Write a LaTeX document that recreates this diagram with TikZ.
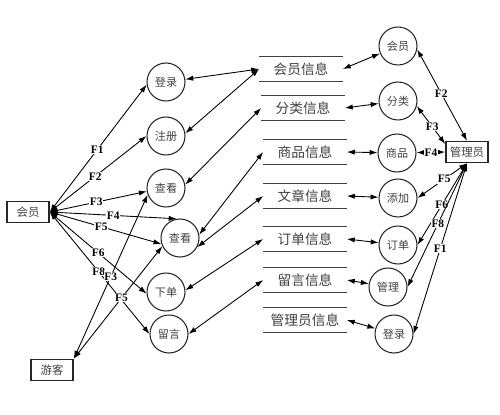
\documentclass[tikz,border=0pt]{standalone}
\usepackage{fontspec}
\setmainfont{Liberation Serif}
\newfontfamily\cjk{Noto Sans CJK SC}
\usepackage{tikz}
\usetikzlibrary{arrows.meta}
\tikzset{
  proc/.style={circle, draw=black!85, line width=0.6pt, minimum size=0.76cm,
               inner sep=0pt, text=black!75, font=\cjk\fontsize{6.3}{7}\selectfont},
  ent/.style={rectangle, draw=black!85, line width=0.9pt, minimum width=0.84cm,
              minimum height=0.42cm, inner sep=1pt, text=black!75,
              font=\cjk\fontsize{6.5}{7}\selectfont},
  store/.style={rectangle, minimum width=1.66cm, minimum height=0.48cm,
                inner sep=0pt, text=black!75, font=\cjk\fontsize{7.8}{8}\selectfont},
  storeline/.style={line width=0.8pt, draw=black!75},
  flow/.style={{Latex[length=4.5pt,width=3pt]}-{Latex[length=4.5pt,width=3pt]},
               line width=0.5pt, draw=black},
  lbl/.style={font=\bfseries\fontsize{6.5}{7}\selectfont, fill=white, inner sep=0.4pt},
}
\begin{document}
\begin{tikzpicture}[x=0.02cm, y=-0.02cm]
  \useasboundingbox (0,0) rectangle (500,415);
  % external entities
  \node[ent] (huiyuan) at (28,212) {会员};
  \node[ent] (youke)   at (52,370) {游客};
  \node[ent] (guanli)  at (467,152) {管理员};
  % member side processes
  \node[proc] (denglu)  at (166,82)  {登录};
  \node[proc] (zhuce)   at (166,136) {注册};
  \node[proc] (chakan)  at (166,188) {查看};
  \node[proc] (chakanb) at (180,238) {查看};
  \node[proc] (xiadan)  at (166,292) {下单};
  \node[proc] (liuyan)  at (169,334) {留言};
  % data stores
  \node[store] (s1) at (301,69)  {会员信息};
  \node[store] (s2) at (303,108) {分类信息};
  \node[store] (s3) at (305,152) {商品信息};
  \node[store] (s4) at (305,196) {文章信息};
  \node[store] (s5) at (305,239) {订单信息};
  \node[store] (s6) at (305,280) {留言信息};
  \node[store] (s7) at (305,320) {管理员信息};
  \foreach \s in {s1,s2,s3,s4,s5,s6,s7} {
    \draw[storeline] (\s.north west) -- (\s.north east);
    \draw[storeline] (\s.south west) -- (\s.south east);
  }
  % admin side processes
  \node[proc] (ahuiyuan) at (398,46)  {会员};
  \node[proc] (afenlei)  at (398,101) {分类};
  \node[proc] (ashangpin) at (397,153) {商品};
  \node[proc] (atianjia) at (398,198) {添加};
  \node[proc] (adingdan) at (398,245) {订单};
  \node[proc] (aguanli)  at (388,287) {管理};
  \node[proc] (adenglu)  at (394,334) {登录};
  % member flows
  \draw[flow] (huiyuan.east) -- node[lbl, pos=0.49] {F1} (denglu.188);
  \draw[flow] (huiyuan.east) -- node[lbl, pos=0.47] {F2} (zhuce.west);
  \draw[flow] (huiyuan.east) -- node[lbl, pos=0.48] {F3} (chakan.190);
  \draw[flow] (huiyuan.east) -- node[lbl, pos=0.5]  {F4} (chakanb.100);
  \draw[flow] (huiyuan.east) -- node[lbl, pos=0.46] {F5} (chakanb.198);
  \draw[flow] (huiyuan.east) -- node[lbl, pos=0.5]  {F6} (xiadan.185);
  \draw[flow] (huiyuan.east) -- node[lbl, pos=0.49] {F8} (liuyan.west);
  % visitor flows
  \draw[flow] (youke.north east) -- node[lbl, pos=0.5]  {F3} (chakan.200);
  \draw[flow] (youke.north east) -- node[lbl, pos=0.54] {F5} (chakanb.205);
  % stores to member processes
  \draw[flow] (s1.west) -- (denglu);
  \draw[flow] (s1.west) -- (zhuce.8);
  \draw[flow] (s2.west) -- (chakan.10);
  \draw[flow] (s3.west) -- (chakanb.10);
  \draw[flow] (s4.west) -- (chakanb.-28);
  \draw[flow] (s5.west) -- (xiadan.5);
  \draw[flow] (s6.west) -- (liuyan.east);
  % stores to admin processes
  \draw[flow] (s1.east) -- (ahuiyuan);
  \draw[flow] (s2.east) -- (afenlei);
  \draw[flow] (s3.east) -- (ashangpin);
  \draw[flow] (s4.east) -- (atianjia);
  \draw[flow] (s5.east) -- (adingdan);
  \draw[flow] (s6.east) -- (aguanli);
  \draw[flow] (s7.east) -- (adenglu);
  % admin flows
  \draw[flow] (guanli.north) -- node[lbl, pos=0.52] {F2} (ahuiyuan.-10);
  \draw[flow] (guanli.160)   -- node[lbl, pos=0.46] {F3} (afenlei.-15);
  \draw[flow] (guanli.west)  -- node[lbl, pos=0.5]  {F4} (ashangpin);
  \draw[flow] (guanli.south) -- node[lbl, pos=0.46] {F5} (atianjia.east);
  \draw[flow] (guanli.south) -- node[lbl, pos=0.51] {F6} (adingdan.east);
  \draw[flow] (guanli.south) -- node[lbl, pos=0.49] {F8} (aguanli.east);
  \draw[flow] (guanli.south) -- node[lbl, pos=0.5]  {F1} (adenglu.east);
\end{tikzpicture}
\end{document}
